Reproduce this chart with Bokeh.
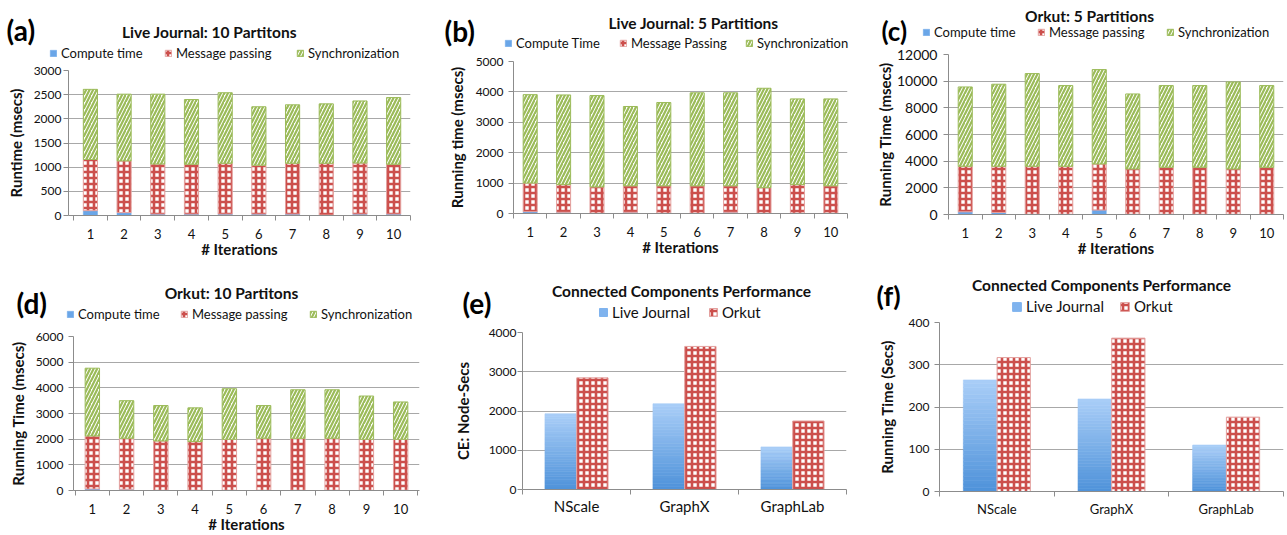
from bokeh.plotting import figure
from bokeh.models import (Range1d, FixedTicker, SingleIntervalTicker, Label, Legend,
                          LegendItem, ColumnDataSource)
from bokeh.layouts import row, column
from bokeh.transform import dodge
from bokeh.embed import file_html
from bokeh.resources import INLINE

# ---------------- data ----------------
iterations = [1, 2, 3, 4, 5, 6, 7, 8, 9, 10]

# (a) Live Journal: 10 partitions (msecs)
lj10_compute = [100, 60, 30, 30, 30, 30, 30, 10, 30, 30]
lj10_message = [1060, 1070, 1035, 1030, 1050, 1010, 1050, 1070, 1055, 1030]
lj10_sync = [1450, 1380, 1445, 1340, 1460, 1210, 1210, 1230, 1285, 1380]

# (b) Live Journal: 5 partitions (msecs)
lj5_compute = [60, 40, 10, 40, 10, 10, 40, 10, 10, 10]
lj5_message = [940, 910, 865, 870, 900, 900, 870, 840, 940, 900]
lj5_sync = [2910, 2950, 3005, 2610, 2740, 3060, 3060, 3270, 2820, 2860]

# (c) Orkut: 5 partitions (msecs)
ok5_compute = [200, 150, 20, 20, 330, 20, 20, 20, 20, 20]
ok5_message = [3415, 3465, 3595, 3595, 3460, 3395, 3520, 3520, 3395, 3520]
ok5_sync = [5950, 6155, 6955, 6055, 7080, 5625, 6130, 6130, 6525, 6130]

# (d) Orkut: 10 partitions (msecs)
ok10_compute = [60, 50, 10, 10, 10, 10, 10, 10, 10, 10]
ok10_message = [2065, 1985, 1920, 1895, 1985, 2025, 2025, 2025, 1985, 1985]
ok10_sync = [2640, 1465, 1380, 1315, 1970, 1275, 1890, 1890, 1685, 1455]

# (e), (f) Connected components performance
systems = ["NScale", "GraphX", "GraphLab"]
ce_lj = [1930, 2185, 1085]
ce_orkut = [2845, 3645, 1745]
rt_lj = [264, 219, 110]
rt_orkut = [317, 363, 176]

# ---------------- styles ----------------
FONT = "Lato"
TXT = "#111111"
GRID = "#a8a8a8"
AXIS = "#8c8c8c"
BLUE = "#6aa6e8"
BLUE_BOT = (78, 146, 218)
BLUE_TOP = (170, 206, 247)
RED = "#cc4f4c"
RED_EDGE = "#e3a09e"
GREEN = "#9bbb59"

CHECK = dict(fill_color="white", line_color=RED_EDGE, line_width=1,
             hatch_pattern="+", hatch_color=RED, hatch_scale=6, hatch_weight=2.6)
STRIPE = dict(fill_color="white", line_color=GREEN, line_width=1,
              hatch_pattern="/", hatch_color=GREEN, hatch_scale=7, hatch_weight=2.2)
BLUE_ST = dict(fill_color=BLUE, line_color=BLUE, line_width=0.5)
LJ_ST = dict(fill_color="#7fb3ee", line_color="#7fb3ee")


def chart_fig(c):
    p = figure(width=c["w"], height=c["h"] - c["hh"], x_range=Range1d(*c["xr"]),
               y_range=Range1d(0, c["ymax"]), output_backend="svg",
               toolbar_location=None, min_border_left=c["fl"], min_border_right=c["fr"],
               min_border_top=c["ft"] - c["hh"], min_border_bottom=c["fb"])
    p.frame_align = False
    p.outline_line_color = None
    p.xgrid.grid_line_color = None
    p.ygrid.grid_line_color = GRID
    p.ygrid.grid_line_width = 1

    ya = p.yaxis[0]
    ya.ticker = SingleIntervalTicker(interval=c["ystep"])
    ya.axis_line_color = AXIS
    ya.major_tick_line_color = AXIS
    ya.minor_tick_line_color = None
    ya.major_tick_out = 5
    ya.major_tick_in = 0
    ya.major_label_standoff = c["ylab_so"]
    ya.major_label_text_font = FONT
    ya.major_label_text_font_style = "normal"
    ya.major_label_text_font_size = c["ytick_fs"]
    ya.major_label_text_color = TXT
    ya.axis_label = c["ylabel"]
    ya.axis_label_text_font = FONT
    ya.axis_label_text_font_style = "bold"
    ya.axis_label_text_font_size = c["ylabel_fs"]
    ya.axis_label_text_color = TXT
    ya.axis_label_standoff = c["yax_so"]

    xa = p.xaxis[0]
    xa.axis_line_color = AXIS
    xa.major_tick_line_color = None
    xa.major_tick_out = 0
    xa.major_tick_in = 0
    xa.minor_tick_line_color = AXIS
    xa.minor_tick_out = 5
    xa.minor_tick_in = 0
    xa.major_label_standoff = c["xlab_so"]
    xa.major_label_text_font = FONT
    xa.major_label_text_font_style = "normal"
    xa.major_label_text_font_size = c["xtick_fs"]
    xa.major_label_text_color = TXT
    return p


def header_fig(c, entries):
    """Title, panel letter and legend, in a strip above the chart.
    Legend swatches reuse the chart's data; the strip's ranges keep them out of view."""
    hh = c["hh"]
    h = figure(width=c["w"], height=hh, x_range=Range1d(-2, -1), y_range=Range1d(-2, -1),
               x_axis_location=None, y_axis_location=None, output_backend="svg",
               toolbar_location=None, min_border=0)
    h.frame_align = False
    h.outline_line_color = None
    h.grid.grid_line_color = None
    tx, ty = c["title_xy"]
    h.add_layout(Label(x=tx, y=hh - ty, x_units="screen", y_units="screen", text=c["title"],
                       text_font=FONT, text_font_style="bold", text_font_size=c["title_fs"],
                       text_align="center", text_baseline="middle", text_color=TXT))
    lx, ly = c["letter_xy"]
    h.add_layout(Label(x=lx, y=hh - ly, x_units="screen", y_units="screen", text=c["letter"],
                       text_font=FONT, text_font_style="bold", text_font_size=c["letter_fs"],
                       text_align="left", text_baseline="middle", text_color="#000000"))
    for (lab, src, xcol, bcol, tcol, st), ix in zip(entries, c["leg_x"]):
        r = h.vbar(x=xcol, width=0.4, bottom=bcol, top=tcol, source=src, **st)
        lg = Legend(items=[LegendItem(label=lab, renderers=[r])],
                    location=(ix, hh - c["leg_y"] - 7),
                    orientation="horizontal", padding=0, margin=0, spacing=0,
                    border_line_color=None, background_fill_alpha=0,
                    glyph_width=c["gw"], glyph_height=c["gw"], label_standoff=4,
                    label_height=14, label_text_font=FONT,
                    label_text_font_size=c["leg_fs"], label_text_color=TXT,
                    label_text_baseline="middle")
        h.add_layout(lg)
    return h


def stacked_panel(c, compute, message, sync, labels):
    p = chart_fig(c)
    xa = p.xaxis[0]
    xa.ticker = FixedTicker(ticks=iterations,
                            minor_ticks=[i - 0.5 for i in iterations] + [iterations[-1] + 0.5])
    xa.axis_label = "# Iterations"
    xa.axis_label_text_font = FONT
    xa.axis_label_text_font_style = "bold"
    xa.axis_label_text_font_size = c["xlabel_fs"]
    xa.axis_label_text_color = TXT
    xa.axis_label_standoff = c["xax_so"]

    top_c = list(compute)
    top_m = [a + b for a, b in zip(compute, message)]
    top_s = [a + b for a, b in zip(top_m, sync)]
    src = ColumnDataSource(dict(x=iterations, b0=[0] * len(iterations), t0=top_c,
                                t1=top_m, t2=top_s))
    w = 0.42
    p.vbar(x="x", width=w, bottom="b0", top="t0", source=src, **BLUE_ST)
    p.vbar(x="x", width=w, bottom="t0", top="t1", source=src, **CHECK)
    p.vbar(x="x", width=w, bottom="t1", top="t2", source=src, **STRIPE)
    h = header_fig(c, [(labels[0], src, "x", "b0", "t0", BLUE_ST),
                       (labels[1], src, "x", "t0", "t1", CHECK),
                       (labels[2], src, "x", "t1", "t2", STRIPE)])
    return column(h, p, spacing=0)


def mix(t):
    return "#%02x%02x%02x" % tuple(int(round(a + (b - a) * t)) for a, b in zip(BLUE_BOT, BLUE_TOP))


def grouped_panel(c, lj, orkut):
    p = chart_fig(c)
    centers = [i + 0.5 for i in range(len(systems))]
    xa = p.xaxis[0]
    xa.ticker = FixedTicker(ticks=centers, minor_ticks=list(range(len(systems) + 1)))
    xa.major_label_overrides = {cx: s for cx, s in zip(centers, systems)}

    n = 30
    g = dict(x=[], b=[], t=[], col=[])
    for cx, v in zip(centers, lj):
        for k in range(n):
            g["x"].append(cx)
            g["b"].append(v * k / n)
            g["t"].append(v * (k + 1) / n)
            g["col"].append(mix((k + 0.5) / n))
    gsrc = ColumnDataSource(g)
    off = 0.147
    w = 0.29
    p.vbar(x=dodge("x", -off, range=p.x_range), width=w, bottom="b", top="t", source=gsrc,
           fill_color="col", line_color="col", line_width=0.6)
    src = ColumnDataSource(dict(x=centers, b0=[0] * len(centers), lj=lj, ok=orkut))
    p.vbar(x=dodge("x", off, range=p.x_range), width=w, bottom="b0", top="ok",
           source=src, **CHECK)
    h = header_fig(c, [("Live Journal", src, "x", "b0", "lj", LJ_ST),
                       ("Orkut", src, "x", "b0", "ok", CHECK)])
    return column(h, p, spacing=0)


cfg_a = dict(w=430, h=262, hh=60, fl=68, fr=20, ft=70, fb=47, xr=(0.35, 10.5), ymax=3000, ystep=500,
             ylabel="Runtime (msecs)", ylabel_fs="15px", yax_so=6, ylab_so=2, ytick_fs="12px",
             xtick_fs="13px", xlab_so=8, xlabel_fs="15px", xax_so=-2,
             title="Live Journal: 10 Partitons", title_xy=(209, 31), title_fs="15.5px",
             letter="(a)", letter_xy=(6, 29), letter_fs="28px",
             leg_x=[49, 164, 296], leg_y=54, gw=8, leg_fs="13px")
cfg_b = dict(w=430, h=262, hh=51, fl=83, fr=13, ft=61, fb=49, xr=(0.5, 10.5), ymax=5000, ystep=1000,
             ylabel="Running time (msecs)", ylabel_fs="15px", yax_so=7, ylab_so=5, ytick_fs="12px",
             xtick_fs="13px", xlab_so=8, xlabel_fs="15px", xax_so=-2,
             title="Live Journal: 5 Partitions", title_xy=(263, 22), title_fs="15.5px",
             letter="(b)", letter_xy=(14, 30), letter_fs="28px",
             leg_x=[74, 189, 315], leg_y=44, gw=8, leg_fs="13px")
cfg_c = dict(w=427, h=262, hh=45, fl=88, fr=4, ft=54, fb=48, xr=(0.5, 10.5), ymax=12000, ystep=2000,
             ylabel="Running Time (msecs)", ylabel_fs="15px", yax_so=0, ylab_so=6, ytick_fs="14px",
             xtick_fs="13px", xlab_so=8, xlabel_fs="15px", xax_so=-2,
             title="Orkut: 5 Partitions", title_xy=(229, 15), title_fs="15.5px",
             letter="(c)", letter_xy=(21, 30), letter_fs="26px",
             leg_x=[62, 177, 306], leg_y=33, gw=8, leg_fs="13px")
cfg_d = dict(w=430, h=273, hh=64, fl=73, fr=11, ft=74, fb=44, xr=(0.45, 10.55), ymax=6000, ystep=1000,
             ylabel="Running Time (msecs)", ylabel_fs="15px", yax_so=6, ylab_so=5, ytick_fs="12px",
             xtick_fs="13px", xlab_so=8, xlabel_fs="15px", xax_so=-2,
             title="Orkut: 10 Partitons", title_xy=(231, 30), title_fs="15.5px",
             letter="(d)", letter_xy=(16, 40), letter_fs="28px",
             leg_x=[66, 180, 309], leg_y=53, gw=8, leg_fs="13px")
cfg_e = dict(w=430, h=273, hh=60, fl=92, fr=14, ft=70, fb=46, xr=(0, 3), ymax=4000, ystep=1000,
             ylabel="CE: Node-Secs", ylabel_fs="15px", yax_so=14, ylab_so=1, ytick_fs="12px",
             xtick_fs="15px", xlab_so=2,
             title="Connected Components Performance", title_xy=(251, 28), title_fs="15.5px",
             letter="(e)", letter_xy=(32, 40), letter_fs="28px",
             leg_x=[168, 278], leg_y=52, gw=10, leg_fs="15px")
cfg_f = dict(w=427, h=273, hh=54, fl=79, fr=4, ft=60, fb=44, xr=(0, 3), ymax=400, ystep=100,
             ylabel="Running Time (Secs)", ylabel_fs="15px", yax_so=10, ylab_so=5, ytick_fs="12px",
             xtick_fs="13px", xlab_so=4,
             title="Connected Components Performance", title_xy=(241, 22), title_fs="15.5px",
             letter="(f)", letter_xy=(16, 33), letter_fs="27px",
             leg_x=[151, 259], leg_y=46, gw=11, leg_fs="15px")

pa = stacked_panel(cfg_a, lj10_compute, lj10_message, lj10_sync,
                   ["Compute time", "Message passing", "Synchronization"])
pb = stacked_panel(cfg_b, lj5_compute, lj5_message, lj5_sync,
                   ["Compute Time", "Message Passing", "Synchronization"])
pc = stacked_panel(cfg_c, ok5_compute, ok5_message, ok5_sync,
                   ["Compute time", "Message passing", "Synchronization"])
pd = stacked_panel(cfg_d, ok10_compute, ok10_message, ok10_sync,
                   ["Compute time", "Message passing", "Synchronization"])
pe = grouped_panel(cfg_e, ce_lj, ce_orkut)
pf = grouped_panel(cfg_f, rt_lj, rt_orkut)

layout = column(row(pa, pb, pc, spacing=0), row(pd, pe, pf, spacing=0), spacing=0)
open("out.html", "w").write(file_html(layout, INLINE))
